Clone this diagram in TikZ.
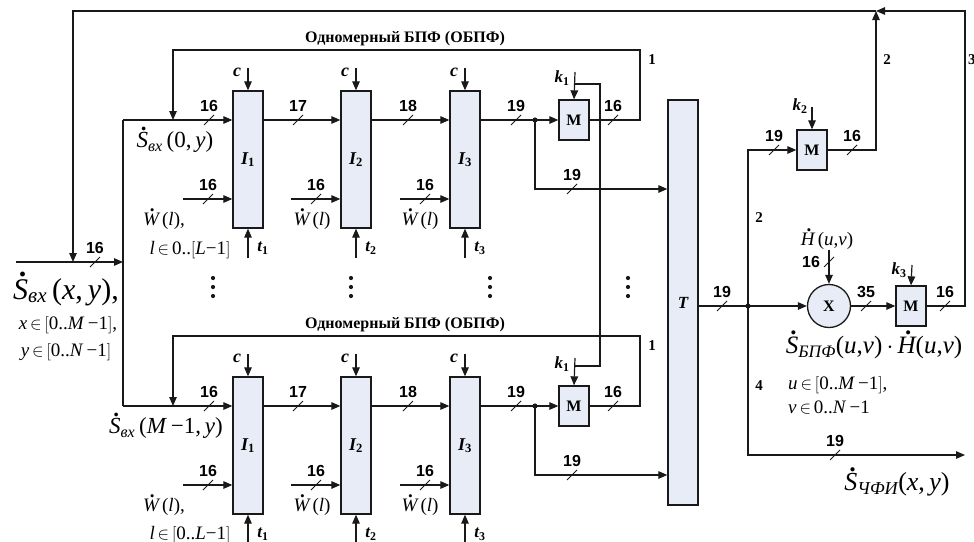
\documentclass[tikz,border=0pt]{standalone}
\usepackage{fontspec}
\setmainfont{Liberation Serif}
\newfontfamily\sansnum{Liberation Sans}
\usetikzlibrary{arrows.meta}
\definecolor{boxfill}{RGB}{232,236,246}
\definecolor{lncol}{RGB}{25,25,25}

\newcommand{\dotl}[1]{\leavevmode\setbox0=\hbox{\itshape #1}%
  \hbox to \wd0{\hss\kern0.12em\raisebox{0.74em}{\upshape\bfseries .}\hss}\kern-\wd0\box0}
\newcommand{\Lbr}{\ensuremath{\big[}}
\newcommand{\Rbr}{\ensuremath{\big]}}
\newcommand{\myin}{\ensuremath{\,\in\,}}
\newcommand{\Ilab}[1]{\textit{I}\textsubscript{\upshape #1}}
\newcommand{\busmark}[4]{%
  \draw[slashln] (#1-5,#2+5) -- (#1+5,#2-5);
  \node[busnum] (#3) at (#1,#2-14) {#4};}

\tikzset{
 ln/.style={line width=1.2pt, draw=lncol},
 arr/.style={ln, -{Triangle[length=9pt,width=7.5pt]}},
 slashln/.style={line width=1pt, draw=lncol},
 blkbase/.style={draw=lncol, line width=1.3pt, fill=boxfill, inner sep=0pt},
 ibox/.style={blkbase, minimum width=30pt, minimum height=137pt,
   font=\bfseries\itshape\fontsize{18}{18}\selectfont},
 mbox/.style={blkbase, minimum width=30pt, minimum height=40pt,
   font=\bfseries\fontsize{16}{16}\selectfont},
 tbox/.style={blkbase, minimum width=30pt, minimum height=405pt,
   font=\bfseries\itshape\fontsize{17}{17}\selectfont},
 xcirc/.style={blkbase, circle, minimum size=43pt,
   font=\bfseries\fontsize{16}{16}\selectfont},
 busnum/.style={font=\sansnum\bfseries\fontsize{16}{16}\selectfont, inner sep=0pt},
 wirenum/.style={font=\bfseries\fontsize{15}{15}\selectfont, inner sep=0pt},
 fbtitle/.style={font=\bfseries\fontsize{16}{16}\selectfont, inner sep=0pt},
 ctl/.style={font=\bfseries\itshape\fontsize{18}{18}\selectfont, inner sep=0pt},
 ktl/.style={font=\bfseries\itshape\fontsize{17}{17}\selectfont, inner sep=0pt},
 mth/.style={font=\fontsize{19}{22}\selectfont, inner sep=0pt},
 mthbig/.style={font=\fontsize{30}{32}\selectfont, inner sep=0pt},
 mthmid/.style={font=\fontsize{23}{25}\selectfont, inner sep=0pt},
 mthlg/.style={font=\fontsize{25}{27}\selectfont, inner sep=0pt},
}

\newcommand{\fftrow}[1]{%
  \node[ibox] (I1#1) at (248,159.5) {\Ilab{1}};
  \node[ibox] (I2#1) at (356,159.5) {\Ilab{2}};
  \node[ibox] (I3#1) at (465,159.5) {\Ilab{3}};
  \node[mbox] (M#1) at (574,120) {M};
  \coordinate (in#1) at (123,120);
  \coordinate (j#1) at (535,120);
  \coordinate (fbr#1) at (640,50);
  \coordinate (fbl#1) at (173,50);
  \coordinate (fbin#1) at (173,120);
  \node[fbtitle] (title#1) at (405,39) {Одномерный БПФ (ОБПФ)};
  \node[wirenum] (one#1) at (652,60) {1};
  \draw[arr] (in#1) -- (I1#1.west |- in#1);
  \busmark{209}{120}{na#1}{16}
  \draw[arr] (M#1.east) -| (fbr#1) -- (fbl#1) -- (fbin#1);
  \busmark{613}{120}{nm#1}{16}
  \draw[arr] (I1#1.east |- in#1) -- (I2#1.west |- in#1);
  \busmark{298}{120}{nb#1}{17}
  \draw[arr] (I2#1.east |- in#1) -- (I3#1.west |- in#1);
  \busmark{408}{120}{nc#1}{18}
  \draw[ln] (I3#1.east |- in#1) -- (j#1);
  \busmark{516}{120}{nd#1}{19}
  \draw[arr] (j#1) -- (M#1.west);
  \draw[arr] (j#1) |- (T.west |- 0,189);
  \busmark{572}{189}{ne#1}{19}
  \fill[lncol] (j#1) circle (2.6);
  \foreach \cx/\n in {248/1,356/2,465/3} {
    \draw[arr] (\cx,68) -- (I\n#1.north);
    \node[ctl] (c\n#1) at (\cx-11,72) {c};
    \draw[arr] (\cx-65,199) -- (I\n#1.west |- 0,199);
    \busmark{\cx-40}{199}{w\n#1}{16}
    \draw[arr] (\cx,258) -- (I\n#1.south);
    \node[ktl] (t\n#1) at (\cx+15,248) {t\textsubscript{\upshape\n}};
  }
  \node[mth] (Wa#1) at (164,219) {\dotl{W}\,(\textit{l}),};
  \node[mth] (Wb#1) at (312,219) {\dotl{W}\,(\textit{l})};
  \node[mth] (Wc#1) at (420,219) {\dotl{W}\,(\textit{l})};
  \draw[arr] (575,72) -- (M#1.north);
  \node[ktl] (k#1) at (562,78) {k\textsubscript{\upshape 1}};
}

\begin{document}
\begin{tikzpicture}[x=1pt,y=-1pt]
\useasboundingbox (0,0) rectangle (974,541);
\node[tbox] (T) at (683,302.5) {T};

\fftrow{a}
\begin{scope}[yshift=-286pt]
\fftrow{b}
\end{scope}

% row labels
\node[mthmid] (Sa) at (175,140) {\dotl{S}\textsubscript{\itshape вх}\,(0,\,\textit{y})};
\node[mthmid] (Sb) at (166,426) {\dotl{S}\textsubscript{\itshape вх}\,(\textit{M}\,−1,\,\textit{y})};
\node[mth] (La) at (190,250) {\textit{l}\myin 0..\Lbr\textit{L}−1\Rbr};
\node[mth] (Lb) at (190,535) {\textit{l}\myin\Lbr 0..\textit{L}−1\Rbr};

% k1 link
\coordinate (kta) at (575,84);
\coordinate (ktb) at (575,366);
\draw[ln] (kta) -- (600,84) -- (600,366) -- (ktb);

% vertical dots
\foreach \x in {213,351,490,628} \foreach \y in {278,287,296} \fill[lncol] (\x,\y) circle (2.1);

% input
\coordinate (src) at (16,262);
\coordinate (bus) at (123,262);
\coordinate (jtop) at (876,11);
\draw[ln] (ina) -- (inb);
\draw[arr] (src) -- (bus);
\busmark{95}{262}{nin}{16}
\draw[arr] (jtop) -- (73,11) -- (73,262);
\node[mthbig] (Sin) at (66,289) {\dotl{S}\textsubscript{\itshape вх}\,(\textit{x},\,\textit{y}),};
\node[mth] (xr) at (68,325) {\textit{x}\myin\Lbr 0..\textit{M}\,−1\Rbr,};
\node[mth] (yr) at (66,352) {\textit{y}\myin\Lbr 0..\textit{N}\,−1\Rbr};

% right part
\node[mbox] (M2) at (812,150) {M};
\node[xcirc] (X) at (829,306) {X};
\node[mbox] (M3) at (911,306) {M};
\coordinate (jT) at (748,306);
\coordinate (out) at (965,455);
\draw[ln] (T.east |- jT) -- (jT);
\busmark{722}{306}{nT}{19}
\draw[arr] (jT) -- (X.west);
\draw[arr] (jT) |- (M2.west);
\busmark{774}{150}{nM2i}{19}
\draw[arr] (M2.east) -| (jtop);
\busmark{852}{150}{nM2o}{16}
\draw[arr] (812,107) -- (M2.north);
\node[ktl] (k2) at (800,106) {k\textsubscript{\upshape 2}};
\draw[arr] (829,250) -- (X.north);
\draw[slashln] (824,267) -- (834,257);
\node[busnum] (nH) at (811,262) {16};
\node[mth] (H) at (827,239) {\dotl{H}\,(\textit{u},\textit{v})};
\draw[arr] (X.east) -- (M3.west);
\busmark{866}{306}{nX}{35}
\draw[arr] (912,265) -- (M3.north);
\node[ktl] (k3) at (899,270) {k\textsubscript{\upshape 3}};
\draw[arr] (M3.east) -- (965,306) -- (965,11) -- (jtop);
\busmark{945}{306}{nM3}{16}
\draw[arr] (jT) |- (out);
\busmark{835}{455}{nout}{19}
\fill[lncol] (jT) circle (2.6);

\node[wirenum] (l2a) at (759,218) {2};
\node[wirenum] (l2b) at (887,60) {2};
\node[wirenum] (l4) at (759,386) {4};
\node[wirenum, anchor=west] (l3) at (968,60) {3};

\node[mthlg] (prod) at (874,345) {\dotl{S}\textsubscript{\itshape БПФ}(\textit{u},\textit{v})\,$\cdot$\,\dotl{H}(\textit{u},\textit{v})};
\node[mth, anchor=west] (ur) at (788,385) {\textit{u}\myin\Lbr 0..\textit{M}\,−1\Rbr,};
\node[mth, anchor=west] (vr) at (788,408) {\textit{v}\myin 0..\textit{N}\,−1};
\node[font=\fontsize{26}{28}\selectfont, inner sep=0pt] (Sout) at (897,482) {\dotl{S}\textsubscript{\itshape ЧФИ}(\textit{x},\,\textit{y})};
\end{tikzpicture}
\end{document}
